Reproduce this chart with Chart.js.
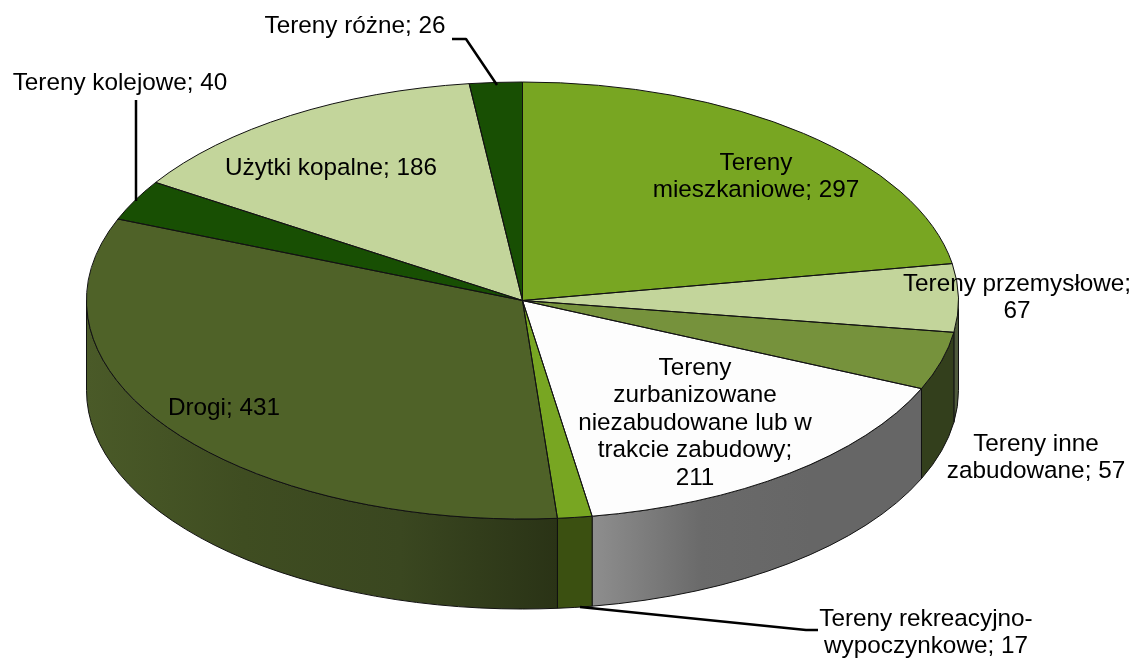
<!DOCTYPE html>
<html><head><meta charset="utf-8">
<style>html,body{margin:0;padding:0;background:#fff}canvas{display:block}</style>
<script src="https://cdn.jsdelivr.net/npm/chart.js@4/dist/chart.umd.min.js"></script>
</head><body><canvas id="c" width="1135" height="661"></canvas>
<script>
const categories = ["Tereny mieszkaniowe","Tereny przemysłowe","Tereny inne zabudowane","Tereny zurbanizowane niezabudowane lub w trakcie zabudowy","Tereny rekreacyjno-wypoczynkowe","Drogi","Tereny kolejowe","Użytki kopalne","Tereny różne"];
const values = [297,67,57,211,17,431,40,186,26];
const topColors = ["#78A622","#C3D59B","#76923C","#FDFDFD","#78A622","#4F6228","#184F03","#C3D59B","#184F03"];
const wallStops = [["#333f1c","#333f1c"],["#4f5a3c","#4f5a3c"],["#333f1c","#333f1c"],["#8e8e8e","#6a6a6a","#666666","#666666"],["#3b5011","#3b5011"],["#4a5a28","#3f4d21","#3a4720","#2a3316"],["#12380a","#12380a"],["#4f5a3c","#4f5a3c"],["#12380a","#12380a"]];
const labelLines = [["Tereny","mieszkaniowe; 297"],["Tereny przemysłowe;","67"],["Tereny inne","zabudowane; 57"],["Tereny","zurbanizowane","niezabudowane lub w","trakcie zabudowy;","211"],["Tereny rekreacyjno-","wypoczynkowe; 17"],["Drogi; 431"],["Tereny kolejowe; 40"],["Użytki kopalne; 186"],["Tereny różne; 26"]];
const labelPos = [[756,163],[1017,284],[1036,444],[695,368],[926,619],[224,408],[120,83],[331,168],[355,26]];
const leaders = [[[452,39],[466,39],[497,85]],[[136,100],[136,201]],[[580,607],[806,630],[818,630]]];

const CX=522.5, CY=300.5, RX=436, RY=218.5, DEPTH=90, LH=27.6;
const pie3d = {
  id:'pie3d',
  beforeDatasetsDraw(chart){
    const ctx=chart.ctx, arcs=chart.getDatasetMeta(0).data;
    arcs.forEach((a,i)=>{
      const s=Math.max(a.startAngle,0), e=Math.min(a.endAngle,Math.PI);
      if(e<=s) return;
      const x0=CX+RX*Math.cos(e), x1=CX+RX*Math.cos(s);
      const g=ctx.createLinearGradient(x0,0,x1,0);
      wallStops[i].forEach((c,k,l)=>g.addColorStop(k/(l.length-1),c));
      ctx.beginPath();
      ctx.ellipse(CX,CY,RX,RY,0,s,e);
      ctx.ellipse(CX,CY+DEPTH,RX,RY,0,e,s,true);
      ctx.closePath();
      ctx.fillStyle=g; ctx.fill();
      ctx.lineWidth=1; ctx.strokeStyle='#111'; ctx.stroke();
    });
    const a=arcs[0];
    ctx.save();
    ctx.translate(CX,CY); ctx.scale(1,RY/RX); ctx.translate(-a.x,-a.y);
  },
  afterDatasetsDraw(chart){
    const ctx=chart.ctx, arcs=chart.getDatasetMeta(0).data;
    ctx.restore();
    arcs.forEach(a=>{
      ctx.beginPath();
      ctx.moveTo(CX,CY);
      ctx.ellipse(CX,CY,RX,RY,0,a.startAngle,a.endAngle);
      ctx.closePath();
      ctx.lineWidth=1; ctx.strokeStyle='#111'; ctx.stroke();
    });
    ctx.strokeStyle='#000'; ctx.lineWidth=2.5; ctx.lineJoin='round';
    leaders.forEach(l=>{
      ctx.beginPath();
      l.forEach((p,i)=>i?ctx.lineTo(p[0],p[1]):ctx.moveTo(p[0],p[1]));
      ctx.stroke();
    });
    ctx.fillStyle='#000'; ctx.textAlign='center'; ctx.textBaseline='middle';
    ctx.font='24.3px "Liberation Sans", Arial, sans-serif';
    labelLines.forEach((lines,i)=>lines.forEach((t,k)=>
      ctx.fillText(t,labelPos[i][0],labelPos[i][1]+k*LH)));
  }
};
new Chart(document.getElementById('c'),{
  type:'pie',
  data:{labels:categories,datasets:[{data:values,backgroundColor:topColors,borderWidth:0,clip:false,radius:RX}]},
  options:{responsive:false,animation:false,
    plugins:{legend:{display:false},tooltip:{enabled:false}}},
  plugins:[pie3d]
});
</script></body></html>
